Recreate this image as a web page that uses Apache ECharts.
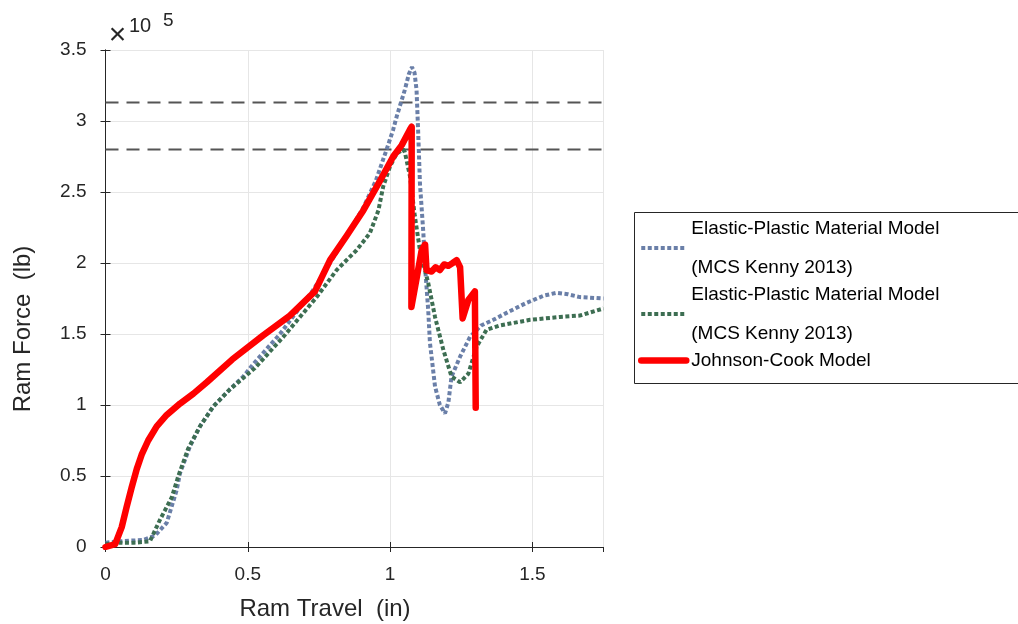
<!DOCTYPE html>
<html>
<head>
<meta charset="utf-8">
<script src="https://cdn.jsdelivr.net/npm/echarts@6/dist/echarts.min.js"></script>
<style>
html, body { margin: 0; padding: 0; background: #fff; }
#main { width: 1018px; height: 624px; }
</style>
</head>
<body>
<div id="main"></div>
<script>
// ram travel (in) vs ram force (x 10^5 lb)

// Elastic-Plastic Material Model (MCS Kenny 2013) - blue
var blueTravel = [0, 0.05, 0.133, 0.174, 0.215, 0.25, 0.262, 0.297, 0.332, 0.379, 0.437, 0.484, 0.52, 0.613, 0.73, 0.789, 0.85, 0.906, 0.95, 0.988, 1.011, 1.023, 1.052, 1.066, 1.077, 1.086, 1.093, 1.099, 1.105, 1.117, 1.123, 1.134, 1.14, 1.158, 1.175, 1.193, 1.205, 1.216, 1.246, 1.281, 1.32, 1.363, 1.42, 1.48, 1.54, 1.585, 1.625, 1.667, 1.75];
var blueForce = [0.03, 0.04, 0.05, 0.08, 0.17, 0.40, 0.52, 0.71, 0.85, 0.99, 1.11, 1.20, 1.29, 1.50, 1.81, 2.00, 2.20, 2.39, 2.58, 2.80, 2.94, 3.03, 3.22, 3.33, 3.38, 3.34, 3.22, 2.91, 2.56, 2.21, 1.97, 1.67, 1.44, 1.13, 1.00, 0.94, 1.02, 1.20, 1.34, 1.48, 1.56, 1.60, 1.66, 1.72, 1.77, 1.79, 1.78, 1.76, 1.75];

// Elastic-Plastic Material Model (MCS Kenny 2013) - green
var greenTravel = [0, 0.05, 0.10, 0.156, 0.191, 0.233, 0.256, 0.29, 0.332, 0.379, 0.437, 0.484, 0.525, 0.625, 0.742, 0.812, 0.882, 0.929, 0.959, 0.976, 1.0, 1.023, 1.046, 1.052, 1.07, 1.087, 1.105, 1.134, 1.158, 1.187, 1.216, 1.246, 1.275, 1.304, 1.339, 1.386, 1.492, 1.597, 1.667, 1.75];
var greenForce = [0.02, 0.03, 0.03, 0.04, 0.19, 0.35, 0.50, 0.69, 0.85, 0.99, 1.11, 1.19, 1.26, 1.48, 1.76, 1.95, 2.09, 2.21, 2.37, 2.54, 2.68, 2.77, 2.80, 2.78, 2.61, 2.33, 2.09, 1.86, 1.62, 1.39, 1.20, 1.16, 1.22, 1.41, 1.53, 1.56, 1.60, 1.62, 1.63, 1.68];

// Johnson-Cook Model - red
var jcTravel = [0, 0.034, 0.057, 0.074, 0.092, 0.110, 0.127, 0.150, 0.180, 0.215, 0.262, 0.309, 0.356, 0.445, 0.554, 0.648, 0.736, 0.789, 0.847, 0.906, 0.965, 1.011, 1.041, 1.048, 1.07, 1.076, 1.075, 1.094, 1.111, 1.123, 1.128, 1.146, 1.16, 1.175, 1.19, 1.205, 1.22, 1.234, 1.24, 1.246, 1.255, 1.275, 1.298, 1.301];
var jcForce = [0, 0.02, 0.14, 0.28, 0.42, 0.55, 0.65, 0.75, 0.85, 0.93, 1.01, 1.08, 1.16, 1.32, 1.49, 1.63, 1.80, 2.02, 2.19, 2.37, 2.58, 2.75, 2.83, 2.84, 2.94, 2.96, 1.69, 1.90, 2.09, 2.13, 1.95, 1.94, 1.97, 1.95, 1.99, 1.98, 2.00, 2.02, 2.01, 1.97, 1.61, 1.74, 1.80, 0.98];

// horizontal dashed reference levels
var limitForces = [3.13, 2.80];

var xTicks = [0, 0.5, 1, 1.5];
var yTicks = [0, 0.5, 1, 1.5, 2, 2.5, 3, 3.5];

var nameBlue = 'Elastic-Plastic Material Model\n(MCS Kenny 2013)';
var nameGreen = 'Elastic-Plastic Material Model\n(MCS Kenny 2013) ';
var nameJC = 'Johnson-Cook Model';

var font = "'Liberation Sans', Arial, sans-serif";
var ink = '#262626';

function pairs(xs, ys) {
	return xs.map(function(x, i) { return [x, ys[i]]; });
}

var chart = echarts.init(document.getElementById('main'));

var series = [];
limitForces.forEach(function(v) {
	series.push({
		type: 'line',
		data: [[0, v], [1.75, v]],
		symbol: 'none',
		silent: true,
		z: 1,
		lineStyle: { color: '#555555', width: 2, type: [13, 8] }
	});
});
series.push({
	name: nameBlue,
	type: 'line',
	data: pairs(blueTravel, blueForce),
	symbol: 'none',
	z: 2,
	itemStyle: { color: '#6a7fa8' },
	lineStyle: { color: '#6a7fa8', width: 4, type: [4, 2.5] }
});
series.push({
	name: nameGreen,
	type: 'line',
	data: pairs(greenTravel, greenForce),
	symbol: 'none',
	z: 3,
	itemStyle: { color: '#3d6e52' },
	lineStyle: { color: '#3d6e52', width: 4, type: [4, 2.5] }
});
series.push({
	name: nameJC,
	type: 'line',
	data: pairs(jcTravel, jcForce),
	symbol: 'none',
	z: 4,
	itemStyle: { color: '#ff0000' },
	lineStyle: { color: '#ff0000', width: 6.5, cap: 'round', join: 'round' }
});

var option = {
	animation: false,
	backgroundColor: '#ffffff',
	textStyle: { fontFamily: font },
	grid: { left: 105.5, right: 414.5, top: 50, bottom: 77, outerBoundsMode: 'none' },
	legend: {
		data: [nameBlue, nameGreen, nameJC],
		orient: 'vertical',
		left: 638,
		top: 209,
		padding: 0,
		itemWidth: 45,
		itemHeight: 14,
		itemGap: -12,
		itemStyle: { opacity: 0 },
		lineStyle: { width: 'inherit' },
		textStyle: { fontFamily: font, fontSize: 19, lineHeight: 39, color: '#000' }
	},
	xAxis: [{
		type: 'value',
		min: 0,
		max: 1.75,
		interval: 0.5,
		name: 'Ram Travel  (in)',
		nameLocation: 'middle',
		nameGap: 50,
		nameTextStyle: { fontFamily: font, fontSize: 24, color: ink, padding: [0, 59, 0, 0] },
		axisLine: { show: true, lineStyle: { color: ink } },
		axisTick: { inside: true, length: 5, lineStyle: { color: ink } },
		axisLabel: {
			showMaxLabel: false, fontSize: 19, color: ink, margin: 18,
			formatter: function(v) { return xTicks.indexOf(v) >= 0 ? String(v) : ''; }
		},
		splitLine: { show: true, lineStyle: { color: '#e6e6e6' } }
	}, {
		type: 'value',
		position: 'top',
		min: 0,
		max: 1.75,
		interval: 0.5,
		axisLine: { show: true, lineStyle: { color: ink } },
		axisTick: { inside: true, length: 5, lineStyle: { color: ink } },
		axisLabel: { show: false },
		splitLine: { show: false }
	}],
	yAxis: [{
		type: 'value',
		min: 0,
		max: 3.5,
		interval: 0.5,
		name: 'Ram Force  (lb)',
		nameLocation: 'middle',
		nameGap: 70,
		nameTextStyle: { fontFamily: font, fontSize: 24, color: ink, padding: [0, 61, 0, 0] },
		axisLine: { show: true, lineStyle: { color: ink } },
		axisTick: { inside: true, length: 5, lineStyle: { color: ink } },
		axisLabel: {
			fontSize: 19, color: ink, margin: 19,
			formatter: function(v) { return yTicks.indexOf(v) >= 0 ? String(v) : ''; }
		},
		splitLine: { show: true, lineStyle: { color: '#e6e6e6' } }
	}, {
		type: 'value',
		position: 'right',
		min: 0,
		max: 3.5,
		interval: 0.5,
		axisLine: { show: true, lineStyle: { color: ink } },
		axisTick: { inside: true, length: 5, lineStyle: { color: ink } },
		axisLabel: { show: false },
		splitLine: { show: false }
	}],
	graphic: [
		{
			type: 'rect',
			shape: { x: 634.5, y: 212.5, width: 384, height: 171 },
			style: { fill: 'none', stroke: ink, lineWidth: 1 },
			silent: true
		},
		{
			type: 'text', x: 117.5, y: 35.5,
			style: { text: '×', fontFamily: font, fontSize: 30, fill: ink, align: 'center', verticalAlign: 'middle' }
		},
		{
			type: 'text', x: 129, y: 26,
			style: { text: '10', fontFamily: font, fontSize: 20, fill: ink, align: 'left', verticalAlign: 'middle' }
		},
		{
			type: 'text', x: 163, y: 21,
			style: { text: '5', fontFamily: font, fontSize: 19, fill: ink, align: 'left', verticalAlign: 'middle' }
		}
	],
	series: series
};
chart.setOption(option);

window.onresize = function() {
	chart.resize();
};
</script>
</body>
</html>
